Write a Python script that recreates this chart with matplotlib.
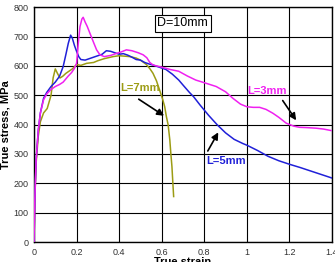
import matplotlib
matplotlib.use('Agg')
import matplotlib.pyplot as plt

plt.rcParams['font.family'] = ['Liberation Sans', 'DejaVu Sans']

# curves (true strain, true stress MPa)
strain_5mm = [0, 0.004, 0.01, 0.02, 0.03, 0.045, 0.06, 0.08, 0.1, 0.12, 0.137, 0.15, 0.161, 0.172,
              0.18, 0.19, 0.2, 0.21, 0.22, 0.24, 0.26, 0.28, 0.3, 0.32, 0.34, 0.36, 0.38, 0.4,
              0.42, 0.44, 0.46, 0.48, 0.5, 0.52, 0.54, 0.56, 0.58, 0.6, 0.62, 0.65, 0.68, 0.7,
              0.73, 0.75, 0.78, 0.82, 0.86, 0.9, 0.94, 0.98, 1.0, 1.05, 1.1, 1.15, 1.2, 1.25,
              1.3, 1.35, 1.4]
stress_5mm = [0, 150, 280, 380, 440, 490, 510, 530, 545, 565, 598, 640, 677, 705,
              695, 670, 650, 632, 622, 620, 625, 630, 635, 640, 652, 650, 645, 640,
              642, 637, 630, 622, 620, 612, 607, 603, 598, 593, 588, 572, 552, 535,
              510, 495, 467, 432, 400, 372, 350, 336, 330, 312, 292, 277, 265, 254,
              242, 230, 218]

strain_3mm = [0, 0.004, 0.01, 0.02, 0.03, 0.045, 0.06, 0.08, 0.1, 0.12, 0.137, 0.16, 0.177, 0.19,
              0.2, 0.208, 0.216, 0.225, 0.231, 0.24, 0.25, 0.263, 0.28, 0.294, 0.31, 0.33, 0.36,
              0.388, 0.41, 0.434, 0.46, 0.49, 0.513, 0.53, 0.544, 0.56, 0.6, 0.64, 0.68, 0.72,
              0.76, 0.8, 0.856, 0.9, 0.934, 0.97, 1.0, 1.03, 1.06, 1.09, 1.122, 1.15, 1.185,
              1.22, 1.247, 1.28, 1.325, 1.36, 1.395]
stress_3mm = [0, 150, 280, 380, 440, 485, 505, 520, 530, 537, 545, 565, 578, 592,
              609, 677, 734, 760, 766, 750, 735, 711, 680, 655, 638, 632, 636,
              643, 648, 655, 652, 645, 638, 628, 612, 603, 596, 588, 582, 566,
              552, 543, 530, 512, 490, 470, 461, 459, 459, 452, 439, 425, 405,
              395, 391, 390, 388, 385, 380]

strain_7mm = [0, 0.004, 0.01, 0.02, 0.03, 0.045, 0.062, 0.08, 0.09, 0.1, 0.11, 0.122, 0.135,
              0.15, 0.18, 0.2, 0.22, 0.247, 0.28, 0.3, 0.33, 0.372, 0.4, 0.45, 0.48, 0.5,
              0.528, 0.545, 0.559, 0.575, 0.59, 0.605, 0.614, 0.622, 0.63, 0.638, 0.643,
              0.648, 0.652, 0.656]
stress_7mm = [0, 150, 270, 360, 410, 440, 455, 500, 560, 590, 575, 559, 565,
              575, 590, 605, 602, 609, 612, 618, 625, 632, 635, 632, 627, 620,
              605, 590, 575, 550, 518, 485, 461, 427, 400, 348, 300,
              257, 205, 155]

x_ticks = [0, 0.2, 0.4, 0.6, 0.8, 1.0, 1.2, 1.4]
x_tick_labels = ['0', '0.2', '0.4', '0.6', '0.8', '1', '1.2', '1.4']
y_ticks = [0, 100, 200, 300, 400, 500, 600, 700, 800]

col_5 = '#2020d8'
col_3 = '#f020f0'
col_7 = '#9c9c14'

fig = plt.figure(figsize=(3.35, 2.62), dpi=100)
ax = fig.add_axes([0.1015, 0.0763, 0.8896, 0.8958])

ax.plot(strain_7mm, stress_7mm, color=col_7, lw=1.1, zorder=3)
ax.plot(strain_5mm, stress_5mm, color=col_5, lw=1.1, zorder=4)
ax.plot(strain_3mm, stress_3mm, color=col_3, lw=1.1, zorder=5)

ax.set_xlim(0, 1.4)
ax.set_ylim(0, 800)
ax.set_xticks(x_ticks)
ax.set_xticklabels(x_tick_labels)
ax.set_yticks(y_ticks)
ax.tick_params(length=0, pad=4, labelsize=6.5, labelcolor='#333333')
ax.grid(True, color='black', lw=0.8)
ax.set_axisbelow(True)
for s in ax.spines.values():
    s.set_linewidth(1.0)

ax.set_xlabel('True strain', fontsize=8, fontweight='bold')
ax.set_ylabel('True stress, MPa', fontsize=8, fontweight='bold')
ax.xaxis.set_label_coords(0.5, -0.065)
ax.yaxis.set_label_coords(-0.078, 0.5)

ax.text(0.699, 745, 'D=10mm', fontsize=9, ha='center', va='center', zorder=6,
        bbox=dict(boxstyle='square,pad=0.2', fc='white', ec='black', lw=0.8))

arrow = dict(arrowstyle='-|>', color='black', lw=1.2, mutation_scale=10)
ax.text(0.497, 525, 'L=7mm', color=col_7, fontsize=8, fontweight='bold', ha='center', va='center')
ax.annotate('', xy=(0.622, 425), xytext=(0.481, 492), arrowprops=arrow, zorder=6)
ax.text(1.095, 515, 'L=3mm', color=col_3, fontsize=8, fontweight='bold', ha='center', va='center')
ax.annotate('', xy=(1.239, 407), xytext=(1.161, 490), arrowprops=arrow, zorder=6)
ax.text(0.902, 276, 'L=5mm', color=col_5, fontsize=8, fontweight='bold', ha='center', va='center')
ax.annotate('', xy=(0.872, 382), xytext=(0.81, 302), arrowprops=arrow, zorder=6)

fig.savefig('out.png', dpi=100)
